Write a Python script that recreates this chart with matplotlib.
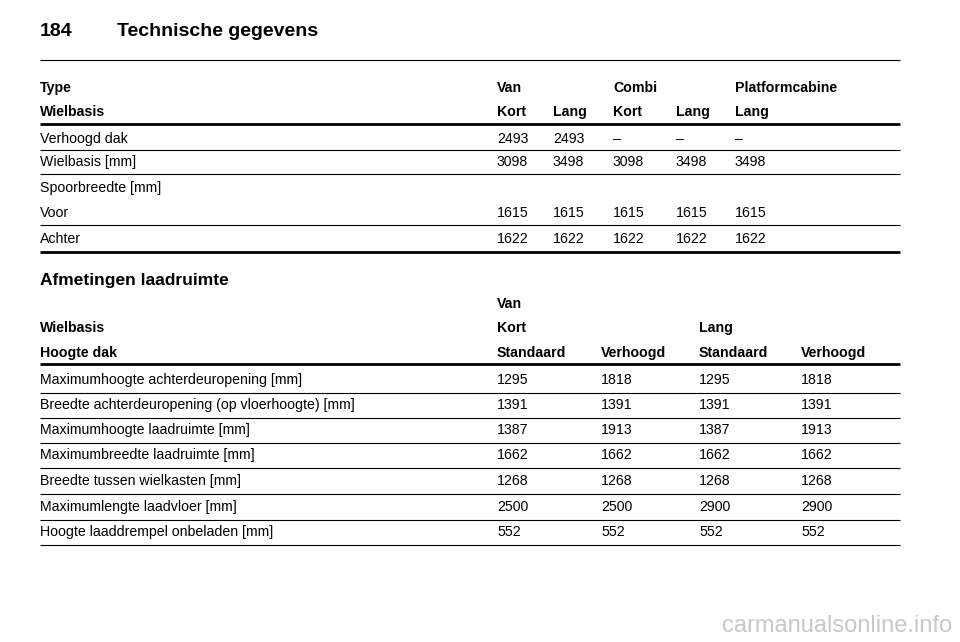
import matplotlib
matplotlib.use("Agg")
import matplotlib.pyplot as plt

plt.rcParams['font.family'] = ['Liberation Sans', 'DejaVu Sans']

PAGE_NO = "184"
PAGE_TITLE = "Technische gegevens"

# table 1
t1_head1 = ["Type", "Van", "", "Combi", "", "Platformcabine"]
t1_head2 = ["Wielbasis", "Kort", "Lang", "Kort", "Lang", "Lang"]
t1_rows = [
    ["Verhoogd dak", "2493", "2493", "–", "–", "–"],
    ["Wielbasis [mm]", "3098", "3498", "3098", "3498", "3498"],
    ["Spoorbreedte [mm]", "", "", "", "", ""],
    ["Voor", "1615", "1615", "1615", "1615", "1615"],
    ["Achter", "1622", "1622", "1622", "1622", "1622"],
]
t1_cols = [40, 497, 553, 613, 676, 735]

SECTION = "Afmetingen laadruimte"
t2_head = [
    ["", "Van", "", "", ""],
    ["Wielbasis", "Kort", "", "Lang", ""],
    ["Hoogte dak", "Standaard", "Verhoogd", "Standaard", "Verhoogd"],
]
t2_rows = [
    ["Maximumhoogte achterdeuropening [mm]", "1295", "1818", "1295", "1818"],
    ["Breedte achterdeuropening (op vloerhoogte) [mm]", "1391", "1391", "1391", "1391"],
    ["Maximumhoogte laadruimte [mm]", "1387", "1913", "1387", "1913"],
    ["Maximumbreedte laadruimte [mm]", "1662", "1662", "1662", "1662"],
    ["Breedte tussen wielkasten [mm]", "1268", "1268", "1268", "1268"],
    ["Maximumlengte laadvloer [mm]", "2500", "2500", "2900", "2900"],
    ["Hoogte laaddrempel onbeladen [mm]", "552", "552", "552", "552"],
]
t2_cols = [40, 497, 601, 699, 801]

fig = plt.figure(figsize=(9.6, 6.42), dpi=100)
ax = fig.add_axes([0, 0, 1, 1])
ax.set_xlim(0, 960)
ax.set_ylim(642, 0)
ax.axis("off")

FS = 10.2
L, R = 40, 900

def hline(y, lw):
    ax.plot([L, R], [y, y], color="black", lw=lw, solid_capstyle="butt")

def row(y, cells, cols, bold=False):
    for x, s in zip(cols, cells):
        if s:
            ax.text(x, y, s, fontsize=FS, va="center", ha="left",
                    fontweight="bold" if bold else "normal")

ax.text(40, 32, PAGE_NO, fontsize=14, fontweight="bold", va="center")
ax.text(117, 32, PAGE_TITLE, fontsize=14, fontweight="bold", va="center")
hline(60, 0.8)

row(88, t1_head1, t1_cols, bold=True)
row(112, t1_head2, t1_cols, bold=True)
hline(124, 2.0)
row_y1 = [139, 162, 188, 213, 239]
line_y1 = [150, 174, None, 225, 252]
for y, ly, r in zip(row_y1, line_y1, t1_rows):
    row(y, r, t1_cols)
    if ly is not None:
        hline(ly, 2.0 if ly == 252 else 0.8)

ax.text(40, 280, SECTION, fontsize=12.5, fontweight="bold", va="center")

for y, r in zip([304, 328, 353], t2_head):
    row(y, r, t2_cols, bold=True)
hline(364, 2.0)
row_y2 = [380, 405, 430, 455, 481, 507, 532]
for y, r in zip(row_y2, t2_rows):
    row(y, r, t2_cols)
    hline(y + 12.5, 0.8)

ax.text(952, 626, "carmanualsonline.info", fontsize=17, color="#c8c8c8",
        ha="right", va="center")

fig.savefig("out.png", dpi=100)
